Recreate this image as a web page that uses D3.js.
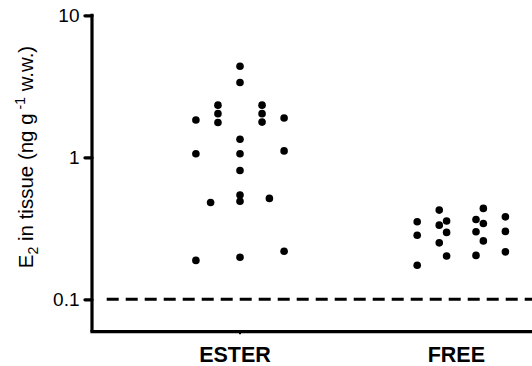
<!DOCTYPE html>
<html><head><meta charset="utf-8">
<script src="https://cdn.jsdelivr.net/npm/d3@7"></script>
<style>body{margin:0;background:#fff}svg{display:block}</style>
</head><body>
<svg id="c" width="532" height="366"></svg>
<script>
const categories = ["ESTER", "FREE"];
const esterValues = [4.38, 3.36, 2.33, 2.03, 1.76, 2.33, 2.03, 1.77, 1.83, 1.89, 1.34, 1.06, 1.06, 1.11, 0.808, 0.542, 0.491, 0.481, 0.514, 0.188, 0.198, 0.218];
const esterSlots  = [0, 0, -3, -3, -3, 3, 3, 3, -6, 6, 0, 0, -6, 6, 0, 0, 0, -4, 4, -6, 0, 6];
const freeValues  = [0.352, 0.283, 0.174, 0.425, 0.333, 0.250, 0.356, 0.296, 0.202, 0.365, 0.299, 0.204, 0.437, 0.342, 0.258, 0.381, 0.301, 0.216];
const freeSlots   = [-6, -6, -6, -3, -3, -3, -2, -2, -2, 2, 2, 2, 3, 3, 3, 6, 6, 6];
const yTicks = [0.1, 1, 10];
const yTickLabels = ["0.1", "1", "10"];
const detectionLimit = 0.1;
const yMin = 0.0592, yMax = 10;

const svg = d3.select("#c");
const font = "'Liberation Sans', Arial, sans-serif";
const axisX = 92, axisY = 331.7;

const y = d3.scaleLog().domain([yMin, yMax]).range([axisY, 15.3]);
const x = d3.scalePoint().domain(categories).range([240, 461.3]);
const slot = d3.scaleLinear().domain([0, 1]).range([0, 7.35]);

const series = [
  {cat: "ESTER", values: esterValues, slots: esterSlots},
  {cat: "FREE", values: freeValues, slots: freeSlots}
];

// dashed detection limit
svg.append("line")
  .attr("x1", 106.7).attr("x2", 540)
  .attr("y1", y(detectionLimit)).attr("y2", y(detectionLimit))
  .attr("stroke", "#000").attr("stroke-width", 3)
  .attr("stroke-dasharray", "12,7");

// y axis
const yAxis = d3.axisLeft(y).tickValues(yTicks)
  .tickFormat((d, i) => yTickLabels[i]).tickSize(7).tickPadding(5.5);
const gy = svg.append("g").attr("transform", `translate(${axisX},0)`).call(yAxis);
gy.select(".domain").remove();
gy.selectAll(".tick line").attr("stroke", "#000").attr("stroke-width", 3.3).attr("stroke-linecap", "round");
gy.selectAll(".tick text").attr("font-family", font).attr("font-size", 19).attr("fill", "#000");
svg.append("line").attr("x1", axisX).attr("x2", axisX)
  .attr("y1", y(yMax) - 1.5).attr("y2", axisY)
  .attr("stroke", "#000").attr("stroke-width", 3.2);

// x axis
svg.append("line").attr("x1", axisX - 1.6).attr("x2", 540)
  .attr("y1", axisY).attr("y2", axisY)
  .attr("stroke", "#000").attr("stroke-width", 3.2);
svg.append("line").attr("x1", x("ESTER")).attr("x2", x("ESTER"))
  .attr("y1", axisY).attr("y2", axisY + 2.5)
  .attr("stroke", "#000").attr("stroke-width", 2);
svg.selectAll(".xlab").data(categories).enter().append("text")
  .attr("class", "xlab")
  .attr("x", d => x(d) - 5).attr("y", 361.5)
  .attr("text-anchor", "middle")
  .attr("font-family", font).attr("font-weight", "bold").attr("font-size", 21.5)
  .text(d => d);

// points
series.forEach(s => {
  svg.append("g").selectAll("circle")
    .data(s.values.map((v, i) => ({v, o: s.slots[i]})))
    .enter().append("circle")
    .attr("cx", d => x(s.cat) + slot(d.o))
    .attr("cy", d => y(d.v))
    .attr("r", 3.8)
    .attr("fill", "#000");
});

// y label
const yl = svg.append("text")
  .attr("transform", "translate(33,157) rotate(-90)")
  .attr("text-anchor", "middle")
  .attr("font-family", font).attr("font-size", 20.5).attr("fill", "#000");
yl.append("tspan").text("E");
yl.append("tspan").attr("font-size", 14).attr("dy", 5).text("2");
yl.append("tspan").attr("dy", -5).text(" in tissue (ng g");
yl.append("tspan").attr("font-size", 14).attr("dy", -8).text(" -1");
yl.append("tspan").attr("dy", 8).text(" w.w.)");
</script>
</body></html>
